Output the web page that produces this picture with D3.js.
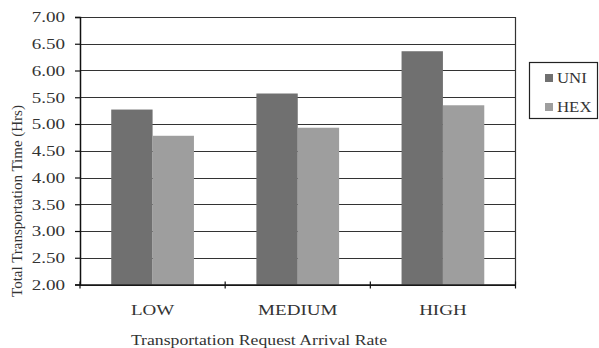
<!DOCTYPE html>
<html>
<head>
<meta charset="utf-8">
<script src="https://cdn.jsdelivr.net/npm/d3@7"></script>
<style>
  html, body { margin: 0; padding: 0; background: #fff; }
  svg { display: block; }
  text { font-family: "Liberation Serif", "DejaVu Serif", serif; fill: #333; }
</style>
</head>
<body>
<script>
const categories = ["LOW", "MEDIUM", "HIGH"];
const seriesNames = ["UNI", "HEX"];
const uniValues = [5.27, 5.57, 6.36];
const hexValues = [4.78, 4.93, 5.35];
const yTicks = [2.0, 2.5, 3.0, 3.5, 4.0, 4.5, 5.0, 5.5, 6.0, 6.5, 7.0];
const colors = ["#707070", "#9e9e9e"];

const W = 599, H = 348;
const plot = { left: 80, right: 515.5, top: 17, bottom: 284.5 };

const svg = d3.select("body").append("svg").attr("width", W).attr("height", H);

const x = d3.scaleBand().domain(categories).range([plot.left, plot.right]).paddingInner(0).paddingOuter(0);
const xs = d3.scaleBand().domain(seriesNames).range([0, x.bandwidth()]).paddingInner(0).paddingOuter(0.755);
const y = d3.scaleLinear().domain([2, 7]).range([plot.bottom, plot.top]);

// gridlines
svg.append("g").selectAll("line").data(yTicks).join("line")
  .attr("x1", plot.left).attr("x2", plot.right)
  .attr("y1", d => Math.round(y(d)) + 0.5).attr("y2", d => Math.round(y(d)) + 0.5)
  .attr("stroke", "#333").attr("stroke-width", 1.2);

// right border
svg.append("line").attr("x1", plot.right).attr("x2", plot.right)
  .attr("y1", plot.top).attr("y2", plot.bottom)
  .attr("stroke", "#333").attr("stroke-width", 1.2);

// bars
const data = categories.map((c, i) => ({ cat: c, vals: [uniValues[i], hexValues[i]] }));
const g = svg.append("g");
data.forEach(d => {
  d.vals.forEach((v, j) => {
    g.append("rect")
      .attr("x", x(d.cat) + xs(seriesNames[j]))
      .attr("width", xs.bandwidth())
      .attr("y", y(v))
      .attr("height", y(2) - y(v))
      .attr("fill", colors[j]);
  });
});

// y axis
const yAxis = d3.axisLeft(y).tickValues(yTicks).tickFormat(d3.format(".2f")).tickSize(5).tickPadding(10);
const ya = svg.append("g").attr("transform", `translate(${plot.left},0)`).call(yAxis);
ya.select(".domain").attr("stroke", "#111").attr("stroke-width", 1.5);
ya.selectAll(".tick line").attr("stroke", "#111").attr("stroke-width", 1.2);
ya.selectAll(".tick text").attr("font-size", 15).style("font-family", '"Liberation Serif", serif').attr("fill", "#333")
  .attr("x", 0).attr("transform", "translate(-15,0) scale(1.27,1)");

// x axis
const xa = svg.append("g").attr("transform", `translate(0,${plot.bottom})`)
  .call(d3.axisBottom(x).tickSize(0).tickPadding(20));
xa.select(".domain").attr("stroke", "#111").attr("stroke-width", 1.5);
xa.selectAll(".tick text").attr("font-size", 15).style("font-family", '"Liberation Serif", serif').attr("fill", "#333")
  .attr("transform", "scale(1.27,1)");
// category separator ticks
const sepTicks = [plot.left].concat(categories.map(c => x(c) + x.bandwidth()));
svg.append("g").selectAll("line").data(sepTicks).join("line")
  .attr("x1", d => d).attr("x2", d => d)
  .attr("y1", plot.bottom - 3).attr("y2", plot.bottom + 4)
  .attr("stroke", "#111").attr("stroke-width", 1.2);

// axis titles
svg.append("text")
  .attr("transform", `translate(22,201) rotate(-90)`)
  .attr("text-anchor", "middle")
  .attr("font-size", 15)
  .attr("fill", "#444")
  .text("Total Transportation  Time (Hrs)");

svg.append("text")
  .attr("transform", "translate(259,345) scale(1.18,1)")
  .attr("text-anchor", "middle")
  .attr("font-size", 15)
  .text("Transportation Request Arrival Rate");

// legend
const lg = svg.append("g");
lg.append("rect").attr("x", 529.5).attr("y", 62.5).attr("width", 68).attr("height", 56)
  .attr("fill", "#fff").attr("stroke", "#222").attr("stroke-width", 1.2);
seriesNames.forEach((s, i) => {
  const yy = 74 + i * 29;
  lg.append("rect").attr("x", 545).attr("y", yy).attr("width", 8).attr("height", 8).attr("fill", colors[i]);
  lg.append("text").attr("transform", `translate(557,${yy + 8.5}) scale(1.2,1)`).attr("font-size", 14).text(s);
});
</script>
</body>
</html>
